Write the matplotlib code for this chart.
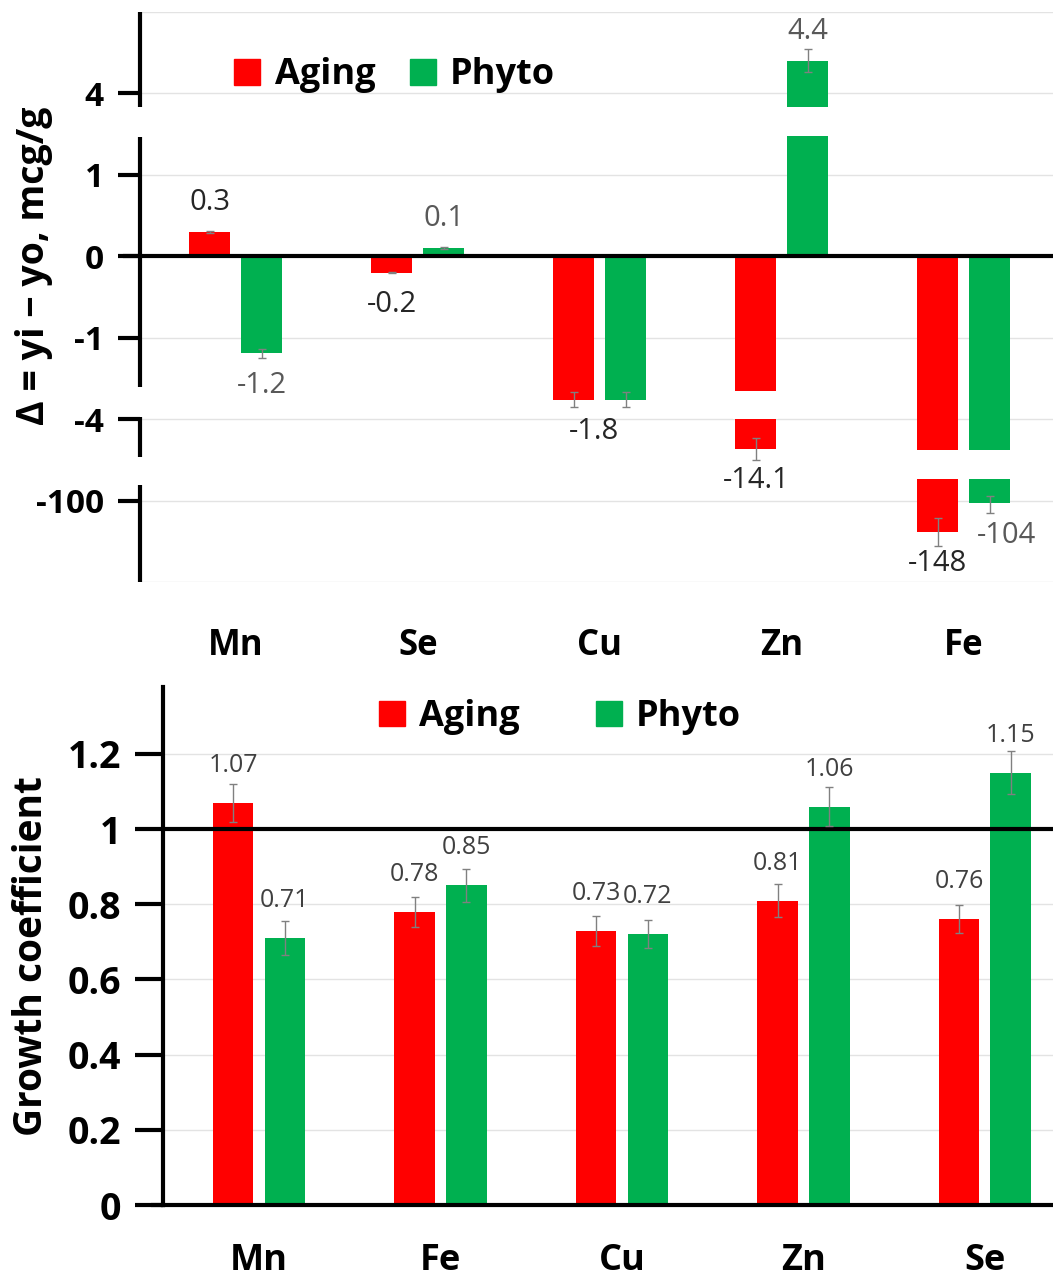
import numpy as np
import matplotlib
matplotlib.use("Agg")
import matplotlib.pyplot as plt
from matplotlib.patches import Patch
from matplotlib.ticker import FixedLocator

plt.rcParams['font.family'] = ['Open Sans', 'DejaVu Sans']

# ---------------------------------------------------------------
# data
# ---------------------------------------------------------------
series = ["Aging", "Phyto"]

# upper panel : delta = yi - yo, mcg/g
elems_top = ["Mn", "Se", "Cu", "Zn", "Fe"]
aging_top = [0.3, -0.2, -1.8, -14.1, -148]
phyto_top = [-1.2, 0.1, -1.8, 4.4, -104]
aging_top_err = [0.01, 0.01, 0.1, 3.7, 22]
phyto_top_err = [0.06, 0.01, 0.1, 0.14, 15]
yticks_top = [4, 1, 0, -1, -4, -100]

# lower panel : growth coefficient
elems_bot = ["Mn", "Fe", "Cu", "Zn", "Se"]
aging_bot = [1.07, 0.78, 0.73, 0.81, 0.76]
phyto_bot = [0.71, 0.85, 0.72, 1.06, 1.15]
aging_bot_err = [0.05, 0.04, 0.04, 0.043, 0.037]
phyto_bot_err = [0.045, 0.043, 0.037, 0.053, 0.057]
yticks_bot = [0, 0.2, 0.4, 0.6, 0.8, 1, 1.2]

RED = "#FF0000"
GREEN = "#00B050"
GRID = "#E3E3E3"
ERRC = "#808080"

# ---------------------------------------------------------------
# broken axis of the upper panel : piecewise linear scale
# (value -> u, u being an evenly spaced "display" unit)
# ---------------------------------------------------------------
KNOT_V = [-250, -100, -20, -4, -2, -1, 0, 1, 4, 6]
KNOT_U = [-4.2, -3.0, -2.58, -2.0, -1.95, -1, 0, 1, 2, 4]

def fwd(v):
    return np.interp(v, KNOT_V, KNOT_U)

def inv(u):
    return np.interp(u, KNOT_U, KNOT_V)

SPINE_GAPS = [(1.47, 1.83), (-1.97, -1.61), (-2.81, -2.47)]   # in u
BAR_GAPS = [(1.48, 1.83), (-2.0, -1.65), (-2.73, -2.38)]      # in u

W, H = 1053, 1279
fig = plt.figure(figsize=(W / 100, H / 100), dpi=100)

x = np.arange(5)
bw = 0.225
off = 0.143

# ===============================================================
# upper panel
# ===============================================================
ax = fig.add_axes([140 / W, (H - 582) / H, 913 / W, 570 / H])
ax.set_yscale('function', functions=(fwd, inv))
ax.set_ylim(inv(-4), inv(3))
ax.set_xlim(-0.527, 4.49)

for vals, errs, col, dx in [(aging_top, aging_top_err, RED, -off),
                            (phyto_top, phyto_top_err, GREEN, off)]:
    ax.bar(x + dx, vals, width=bw, color=col, zorder=2)
    # break marks on the long bars (outermost gap crossed only)
    for xi, v in zip(x + dx, vals):
        uv = fwd(v)
        crossed = [g for g in BAR_GAPS if (uv > 0 and uv > g[1] and g[0] > 0) or (uv < 0 and uv < g[0] and g[1] < 0)]
        if crossed:
            g = max(crossed, key=lambda g: abs(g[0] + g[1]))
            ax.bar(xi, inv(g[1]) - inv(g[0]), bottom=inv(g[0]), width=bw * 1.1,
                   color="white", zorder=2.5)
    ax.errorbar(x + dx, vals, yerr=errs, fmt="none", ecolor=ERRC, elinewidth=1,
                capsize=3, capthick=1, zorder=4)

# value labels (a single label when both series are equal)
for i, name in enumerate(elems_top):
    a, p = aging_top[i], phyto_top[i]
    if a == p:
        items = [(x[i], a, -4, "#262626")]
    else:
        items = [(x[i] - off, a, 0, "#262626"),
                 (x[i] + off, p, 12 if name == "Fe" else 0, "#595959")]
    for xi, v, sx, lcol in items:
        sy = 21 if v > 0 else -23
        ax.annotate(f"{v:g}", (xi, v), xytext=(sx, sy), textcoords="offset points",
                    ha="center", va="center", fontsize=21, color=lcol, zorder=5)

ax.axhline(0, color="black", lw=3, zorder=3)
ax.plot([-0.016, 0], [0, 0], color="black", lw=3, transform=ax.get_yaxis_transform(),
        clip_on=False, zorder=3)

# left spine drawn in pieces
for s in ["left", "right", "top", "bottom"]:
    ax.spines[s].set_visible(False)
edges = [3] + [b for g in sorted(SPINE_GAPS, reverse=True) for b in (g[1], g[0])] + [-4]
for hi, lo in zip(edges[0::2], edges[1::2]):
    ax.plot([0, 0], [inv(lo), inv(hi)], color="black", lw=3,
            transform=ax.get_yaxis_transform(), clip_on=False, solid_capstyle="butt")

ax.set_yticks(yticks_top)
ax.set_yticklabels([f"{t:g}" for t in yticks_top])
ax.yaxis.set_minor_locator(FixedLocator([inv(3), inv(-4)]))
ax.grid(axis="y", which="both", color=GRID, lw=1, zorder=0)
ax.tick_params(axis="y", which="major", length=16, width=3, pad=10, labelsize=24)
ax.tick_params(axis="y", which="minor", length=0)
for lab in ax.get_yticklabels():
    lab.set_fontweight("bold")
ax.set_xticks(x)
ax.set_xticklabels(elems_top, fontsize=25, fontweight="bold")
ax.tick_params(axis="x", length=0, pad=33)
ax.set_axisbelow(True)

handles = [Patch(color=RED, label=series[0]), Patch(color=GREEN, label=series[1])]
ax.legend(handles=handles, loc="center", bbox_to_anchor=(0.279, 0.889), ncol=2,
          frameon=False, prop={"size": 26, "weight": "bold"}, handlelength=0.72,
          handleheight=0.72, handletextpad=0.4, columnspacing=0.95)

fig.text(34 / W, 1 - 266 / H, "Δ = yi − yo, mcg/g", rotation=90, ha="center", va="center",
         fontsize=27, fontweight="bold")

# ===============================================================
# lower panel
# ===============================================================
ax2 = fig.add_axes([163 / W, (H - 1205) / H, 890 / W, 518 / H])
ax2.set_ylim(0, 1.378)
ax2.set_xlim(-0.529, 4.375)

for vals, errs, col, dx in [(aging_bot, aging_bot_err, RED, -off),
                            (phyto_bot, phyto_bot_err, GREEN, off)]:
    ax2.bar(x + dx, vals, width=bw, color=col, zorder=2)
    ax2.errorbar(x + dx, vals, yerr=errs, fmt="none", ecolor=ERRC, elinewidth=1,
                 capsize=3, capthick=1, zorder=4)
    for xi, v in zip(x + dx, vals):
        ax2.annotate(f"{v:g}", (xi, v), xytext=(0, 27), textcoords="offset points",
                     ha="center", va="center", fontsize=18, color="#404040", zorder=5)

ax2.axhline(1, color="black", lw=3, zorder=3)
for s in ["right", "top"]:
    ax2.spines[s].set_visible(False)
ax2.spines["left"].set_linewidth(3)
ax2.spines["bottom"].set_linewidth(3)
ax2.plot([-0.011, 0], [0, 0], color="black", lw=3, transform=ax2.get_yaxis_transform(),
         clip_on=False)

ax2.set_yticks(yticks_bot)
ax2.set_yticklabels([f"{t:g}" for t in yticks_bot], fontsize=27, fontweight="bold")
ax2.grid(axis="y", color=GRID, lw=1, zorder=0)
ax2.tick_params(axis="y", length=20, width=3, pad=10)
ax2.set_xticks(x)
ax2.set_xticklabels(elems_bot, fontsize=26, fontweight="bold")
ax2.tick_params(axis="x", length=0, pad=27)
ax2.set_axisbelow(True)

ax2.legend(handles=handles, loc="center", bbox_to_anchor=(0.446, 0.942), ncol=2,
           frameon=False, prop={"size": 26, "weight": "bold"}, handlelength=0.72,
           handleheight=0.72, handletextpad=0.4, columnspacing=2.1)

fig.text(32 / W, 1 - 956 / H, "Growth coefficient", rotation=90, ha="center", va="center",
         fontsize=28, fontweight="bold")

fig.savefig("out.png", dpi=100)
